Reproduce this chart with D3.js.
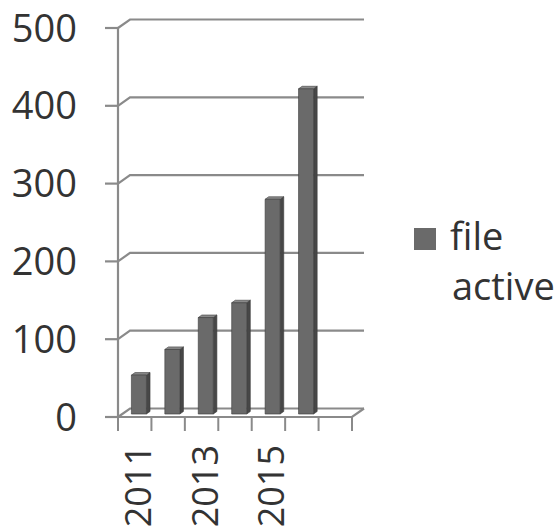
<!DOCTYPE html>
<html>
<head>
<meta charset="utf-8">
<script src="https://cdn.jsdelivr.net/npm/d3@7"></script>
<style>
  html, body { margin: 0; padding: 0; background: #ffffff; }
  svg { display: block; }
  text { font-family: "Open Sans", "DejaVu Sans", sans-serif; fill: #333333; }
</style>
</head>
<body>
<script>
// Yearly counts of active files
const years = ["2011", "2012", "2013", "2014", "2015", "2016", ""];
const fileActive = [50, 83, 124, 143, 276, 418, null];
const yTicks = [0, 100, 200, 300, 400, 500];
const yearLabels = ["2011", "2013", "2015"];
const seriesName = "file\nactive";

const W = 555, H = 531;
const svg = d3.select("body").append("svg").attr("width", W).attr("height", H);

// 3-D box: front plane and an oblique depth offset
const depthX = 12, depthY = -8.5;
const shift = t => [depthX * t, depthY * t];

const x = d3.scaleBand().domain(years).range([118, 352])
  .paddingInner(0.55).paddingOuter(0.275);
const xStep = d3.scaleBand().domain(years).range([118, 352]).padding(0);
const y = d3.scaleLinear().domain([0, 500]).range([417, 28]);

const gridColor = "#8a8a8a";

// Gridlines: short oblique run from the axis to the back wall, then across
const grid = svg.append("g");
yTicks.forEach(v => {
  const yf = y(v), [bx, by] = shift(1);
  grid.append("path")
    .attr("d", `M118,${yf}L${118 + bx},${yf + by}L${352 + bx},${yf + by}`)
    .attr("fill", "none").attr("stroke", gridColor).attr("stroke-width", 2.2);
});

// Floor outline (front edge and right side)
{
  const [bx, by] = shift(1);
  svg.append("path")
    .attr("d", `M118,${y(0)}L352,${y(0)}L${352 + bx},${y(0) + by}`)
    .attr("fill", "none").attr("stroke", gridColor).attr("stroke-width", 2.2);
}

// Value axis line and ticks
svg.append("line").attr("x1", 118).attr("x2", 118).attr("y1", y(500)).attr("y2", y(0))
  .attr("stroke", gridColor).attr("stroke-width", 2.2);
svg.append("g").selectAll("line").data(yTicks).join("line")
  .attr("x1", 105).attr("x2", 118).attr("y1", d => y(d)).attr("y2", d => y(d))
  .attr("stroke", gridColor).attr("stroke-width", 2.2);
svg.append("g").selectAll("text").data(yTicks).join("text")
  .attr("x", 77).attr("y", d => y(d)).attr("dy", "0.36em")
  .attr("text-anchor", "end").attr("font-size", 38).text(d => d);

// Category ticks
const bounds = years.map(d => xStep(d)).concat([352]);
svg.append("g").selectAll("line").data(bounds).join("line")
  .attr("x1", d => d).attr("x2", d => d).attr("y1", y(0)).attr("y2", 431)
  .attr("stroke", gridColor).attr("stroke-width", 2);

// Category labels, every other year, rotated
svg.append("g").selectAll("text").data(yearLabels).join("text")
  .attr("transform", d => `translate(${xStep(d) + xStep.bandwidth() / 2 + 3},445) rotate(-90)`)
  .attr("dy", "0.36em").attr("text-anchor", "end").attr("font-size", 36).text(d => d);

// 3-D columns
const tFront = 0.35, tBack = 0.65;
const bars = svg.append("g");
years.forEach((yr, i) => {
  const v = fileActive[i];
  if (v == null) return;
  const [fx, fy] = shift(tFront), [kx, ky] = shift(tBack);
  const x0 = x(yr) + fx, x1 = x0 + x.bandwidth();
  const yb = y(0) + fy, yt = y(v) + fy;
  const ddx = kx - fx, ddy = ky - fy;
  const g = bars.append("g").attr("stroke", "#3c3c3c").attr("stroke-width", 0.6).attr("stroke-linejoin", "round");
  // side face
  g.append("path").attr("d",
    `M${x1},${yb}L${x1 + ddx},${yb + ddy}L${x1 + ddx},${yt + ddy}L${x1},${yt}Z`)
    .attr("fill", "#474747");
  // top face
  g.append("path").attr("d",
    `M${x0},${yt}L${x0 + ddx},${yt + ddy}L${x1 + ddx},${yt + ddy}L${x1},${yt}Z`)
    .attr("fill", "#8a8a8a");
  // front face
  g.append("rect").attr("x", x0).attr("y", yt).attr("width", x1 - x0).attr("height", yb - yt)
    .attr("fill", "#6a6a6a");
});

// Legend
const lg = svg.append("g");
lg.append("rect").attr("x", 414).attr("y", 228).attr("width", 22).attr("height", 22).attr("fill", "#6a6a6a");
seriesName.split("\n").forEach((line, k) => {
  lg.append("text").attr("x", 450 + (k ? 2 : 0)).attr("y", 250 + k * 50)
    .attr("font-size", 38).text(line);
});
</script>
</body>
</html>
